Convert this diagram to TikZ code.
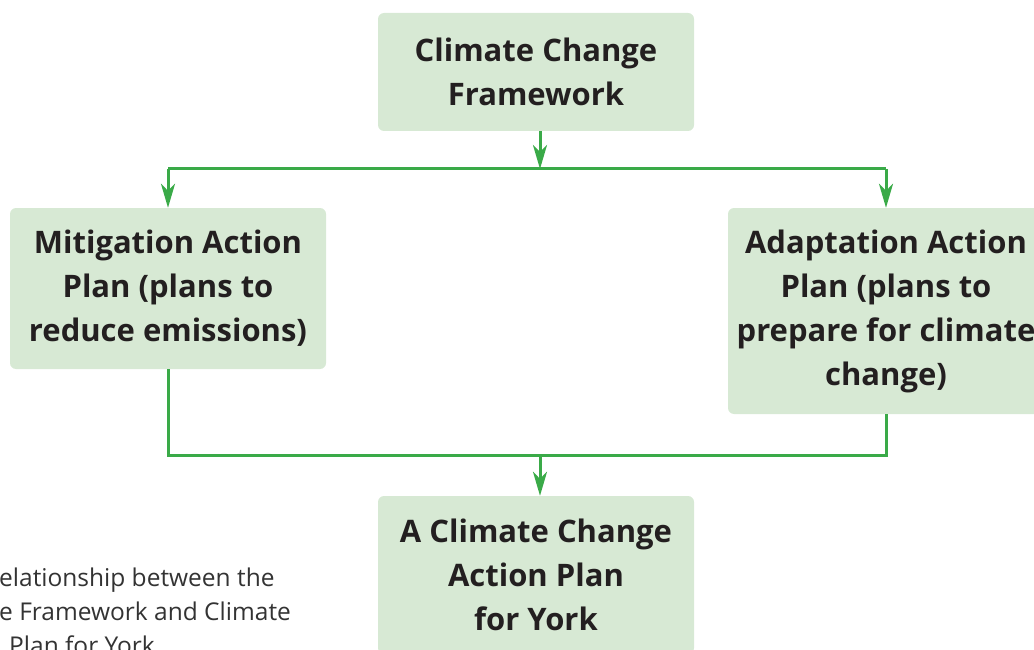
\documentclass[tikz,border=0pt]{standalone}
\usepackage{fontspec}
\setmainfont{Open Sans}
\usetikzlibrary{positioning}
\usetikzlibrary{arrows.meta}
\definecolor{boxgreen}{HTML}{D7E9D4}
\definecolor{linegreen}{HTML}{3AAA48}
\definecolor{inkgrey}{HTML}{231F20}
\definecolor{capgrey}{HTML}{333333}

\begin{document}
\begin{tikzpicture}[x=1pt, y=-1pt,
			plan/.style={fill=boxgreen, rounded corners=6pt, minimum width=316pt, inner sep=0pt, text=inkgrey, font=\fontsize{31}{44}\selectfont\bfseries},
			flow/.style={draw=linegreen, line width=3pt},
			every text node part/.style={align=center}]
			\useasboundingbox (0,0) rectangle (1034,650);
			\clip (0,0) rectangle (1034,650);
			
			\node[plan, minimum height=118pt](framework) at (536, 72) {Climate Change\\Framework};
			\node[plan, minimum height=161pt](mitigation) at (168, 288.5) {Mitigation Action\\Plan (plans to\\reduce emissions)};
			\node[plan, minimum height=206pt](adaptation) at (886, 311) {Adaptation Action\\Plan (plans to\\prepare for climate\\change)};
			\node[plan, minimum height=158pt](york) at (536, 575) {A Climate Change\\Action Plan\\for York};
			
			\coordinate (split) at (540, 169);
			\coordinate (join) at (540, 455);
			
			\draw[flow, -{Stealth[length=24pt, width=14pt, inset=7pt]}] (split |- framework.south) -- (split);
			\draw[flow] (split -| mitigation.north) -- (split -| adaptation.north);
			\draw[flow, -{Stealth[length=24pt, width=14pt, inset=7pt]}] (split -| mitigation.north) -- (mitigation.north);
			\draw[flow, -{Stealth[length=24pt, width=14pt, inset=7pt]}] (split -| adaptation.north) -- (adaptation.north);
			
			\draw[flow] (mitigation.south) -- (join -| mitigation.south) -- (join -| adaptation.south) -- (adaptation.south);
			\draw[flow, -{Stealth[length=24pt, width=14pt, inset=7pt]}] (join) -- (join |- york.north);
			
			%caption, cut at the left edge
			\node[anchor=base west, inner sep=0pt, text=capgrey, font=\fontsize{24.5}{34}\selectfont](caption1) at (-1, 586) {elationship between the};
			\node[anchor=base west, inner sep=0pt, text=capgrey, font=\fontsize{24.5}{34}\selectfont](caption2) at (-1, 620) {e Framework and Climate};
			\node[anchor=base west, inner sep=0pt, text=capgrey, font=\fontsize{24.5}{34}\selectfont](caption3) at (9, 654) {Plan for York};
		\end{tikzpicture}
\end{document}
